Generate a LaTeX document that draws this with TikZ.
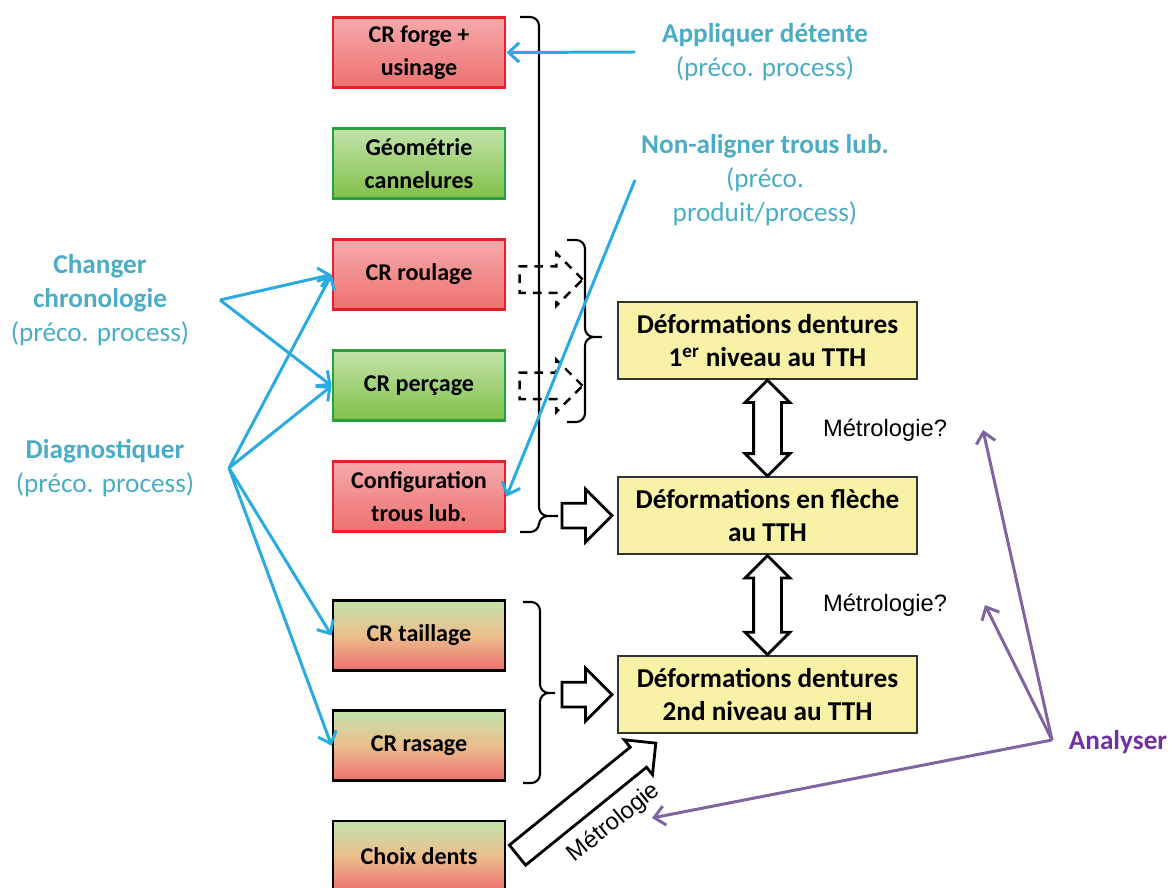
\documentclass[tikz,border=0pt]{standalone}
\usepackage{fontspec}
\setmainfont{Carlito}
\newfontfamily\arialfont{Liberation Sans}
\usepackage{xcolor}
\usetikzlibrary{positioning,arrows.meta,calc,shapes.arrows}

\definecolor{precotxt}{RGB}{75,172,198}
\definecolor{precoline}{RGB}{41,171,226}
\definecolor{anatxt}{RGB}{112,48,160}
\definecolor{analine}{RGB}{128,100,162}
\definecolor{redline}{RGB}{232,30,40}
\definecolor{redtop}{RGB}{246,170,170}
\definecolor{redbot}{RGB}{238,112,112}
\definecolor{grnline}{RGB}{40,160,60}
\definecolor{grntop}{RGB}{194,227,170}
\definecolor{grnbot}{RGB}{128,192,72}
\definecolor{mixmid}{RGB}{236,190,140}
\definecolor{tthyellow}{RGB}{247,242,165}

\begin{document}
\begin{tikzpicture}[
  x=0.02cm, y=-0.02cm,
  cr/.style={draw, line width=1.6pt, font=\fontsize{13.7}{18.7}\selectfont\bfseries,
             minimum width=3.44cm, minimum height=1.4cm, align=center, inner sep=2pt},
  crred/.style={cr, draw=redline, top color=redtop, bottom color=redbot},
  crgreen/.style={cr, draw=grnline, top color=grntop, bottom color=grnbot},
  crmix/.style={cr, draw=black, top color=grntop, bottom color=redbot, middle color=mixmid},
  deform/.style={draw=black!80, line width=1.2pt, fill=tthyellow,
                 font=\fontsize{15.5}{18.7}\selectfont\bfseries,
                 minimum width=5.98cm, minimum height=1.54cm, align=center},
  preco/.style={text=precotxt, font=\fontsize{15.5}{19.3}\selectfont, align=center},
  metro/.style={font=\arialfont\fontsize{13.5}{16}\selectfont},
  blockarr/.style={draw, line width=1.6pt, fill=white, single arrow, inner xsep=0pt,
                   inner ysep=0.22cm, single arrow head extend=0.28cm,
                   minimum width=1.0cm, minimum height=1.0cm},
  dasharr/.style={draw, line width=1.4pt, dash pattern=on 5pt off 4pt, single arrow,
                  inner xsep=0pt, inner ysep=0.24cm, single arrow head extend=0.26cm,
                  minimum width=1.0cm, minimum height=1.26cm},
  dblarr/.style={draw, line width=1.6pt, fill=white, double arrow, inner xsep=0pt,
                 inner ysep=0.25cm, double arrow head extend=0.17cm,
                 minimum width=0.84cm, rotate=90},
  metroarr/.style={draw, line width=1.6pt, fill=white, single arrow, inner xsep=0pt,
                   inner ysep=0.23cm, single arrow head extend=0.19cm,
                   minimum width=0.84cm, minimum height=3.56cm},
  bracket/.style={line width=1.2pt, rounded corners=5pt},
  precoarr/.style={draw=precoline, line width=1.7pt, -{Straight Barb[length=6pt,width=11pt]}},
  anaarr/.style={draw=analine, line width=1.7pt, -{Straight Barb[length=6pt,width=11pt]}},
]
  \useasboundingbox (0,0) rectangle (1176,888);

  % left column
  \node[crred] (forge) at (419,52.5) {CR forge +\\usinage};
  \node[crgreen, below=0.76cm of forge] (geom) {Géométrie\\cannelures};
  \node[crred, below=0.77cm of geom] (roul) {CR roulage};
  \node[crgreen, below=0.77cm of roul] (perc) {CR perçage};
  \node[crred, below=0.76cm of perc] (conf) {Configuration\\trous lub.};
  \node[crmix, below=1.32cm of conf] (taill) {CR taillage};
  \node[crmix, below=0.75cm of taill] (ras) {CR rasage};
  \node[crmix, below=0.75cm of ras] (choix) {Choix dents};

  % TTH column
  \node[deform] (niv1) at (767.5,340.5) {Déformations dentures\\1\textsuperscript{er} niveau au TTH};
  \node[deform, below=1.92cm of niv1] (fleche) {Déformations en flèche\\au TTH};
  \node[deform, below=2.0cm of fleche] (niv2) {Déformations dentures\\2nd niveau au TTH};

  % dashed arrows behind the big bracket
  \node[dasharr, right=0.24cm of roul, yshift=-0.1cm] (dash1) {};
  \node[dasharr, right=0.24cm of perc] (dash2) {};

  % brackets
  \draw[bracket] (520,17) -- (539,17) -- (539,516) -- (558,516)
                 (558,516) -- (539,516) -- (539,532) -- (520,532);
  \draw[bracket] (567,240) -- (585,240) -- (585,337) -- (602,337)
                 (602,337) -- (585,337) -- (585,422) -- (567,422);
  \draw[bracket] (523,602) -- (540,602) -- (540,693) -- (555,693)
                 (555,693) -- (540,693) -- (540,783) -- (523,783);

  % block arrows
  \node[blockarr, anchor=east] (arrfl) at ([xshift=-0.06cm]fleche.west) {};
  \node[blockarr, anchor=east] (arrniv2) at ([xshift=-0.06cm]niv2.west) {};
  \node[dblarr, minimum height=1.92cm] (dbl1) at ($(niv1.south)!0.5!(fleche.north)$) {};
  \node[dblarr, minimum height=1.98cm] (dbl2) at ($(fleche.south)!0.5!(niv2.north)$) {};
  \node[metroarr, rotate=39, anchor=west] (metarr) at ([xshift=0.2cm]choix.east) {};
  \node[metro, rotate=39] (metlab) at (614,823) {Métrologie};
  \node[metro] (mq1) at (885,430) {Métrologie?};
  \node[metro] (mq2) at (885,605) {Métrologie?};

  % recommendations
  \node[preco] (appl) at (765,52) {\textbf{Appliquer détente}\\(préco. process)};
  \node[preco] (nonal) at (765,180) {\textbf{Non-aligner trous lub.}\\(préco.\\produit/process)};
  \node[preco] (chg) at (100,300) {\textbf{Changer}\\\textbf{chronologie}\\(préco. process)};
  \node[preco] (diag) at (105,468) {\textbf{Diagnostiquer}\\(préco. process)};
  \node[text=anatxt, font=\fontsize{15.5}{19.3}\selectfont\bfseries] (ana) at (1118,742) {Analyser};

  \coordinate (applpt) at (635,52);
  \coordinate (nonalpt) at (635,180);
  \coordinate (chgpt) at (220,300);
  \coordinate (diagpt) at (229,468);
  \coordinate (anapt) at (1052,740);
  \coordinate (mq1pt) at (983,430);
  \coordinate (mq2pt) at (985,605);
  \coordinate (metpt) at (652,818);

  \draw[precoarr] (applpt) -- (forge.east);
  \draw[precoarr] (nonalpt) -- (conf.east);
  \draw[precoarr] (chgpt) -- (roul.west);
  \draw[precoarr] (chgpt) -- (perc.west);
  \draw[precoarr] (diagpt) -- (roul.west);
  \draw[precoarr] (diagpt) -- (perc.west);
  \draw[precoarr] (diagpt) -- (taill.west);
  \draw[precoarr] (diagpt) -- (ras.west);

  \draw[anaarr] (anapt) -- (mq1pt);
  \draw[anaarr] (anapt) -- (mq2pt);
  \draw[anaarr] (anapt) -- (metpt);
\end{tikzpicture}
\end{document}
